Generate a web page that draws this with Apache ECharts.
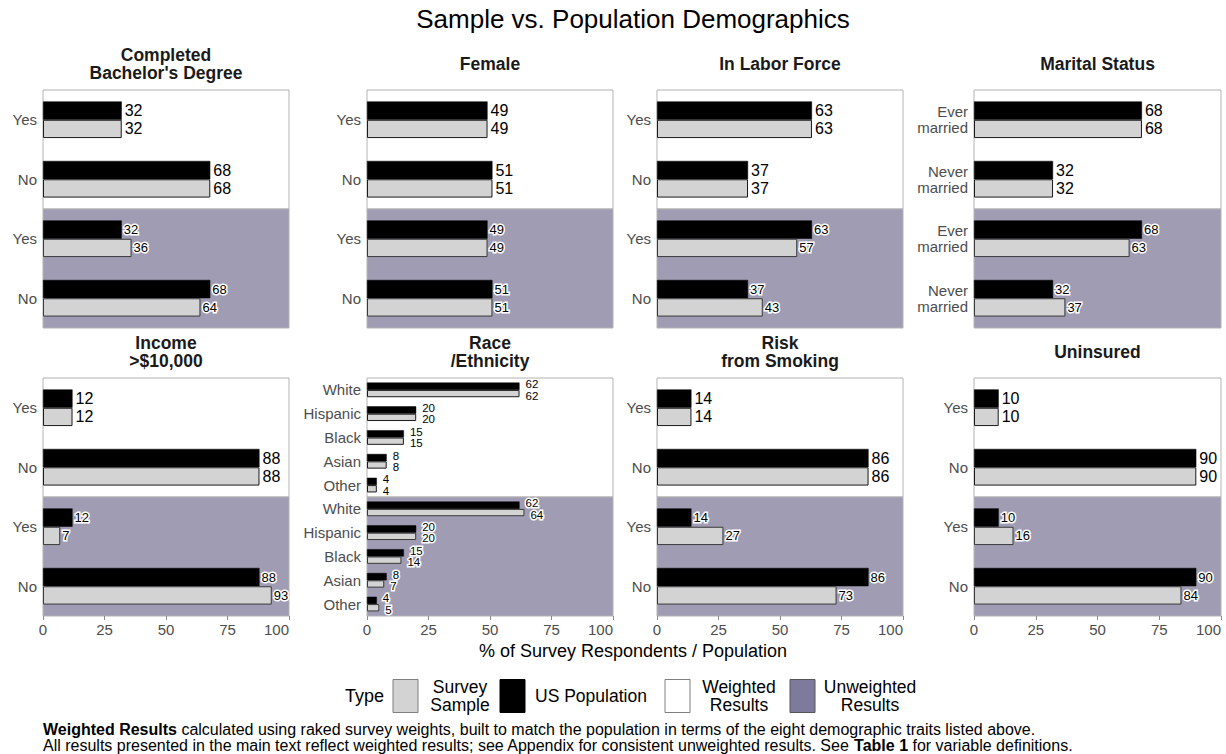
<!DOCTYPE html>
<html><head><meta charset="utf-8">
<script src="https://cdn.jsdelivr.net/npm/echarts@6/dist/echarts.min.js"></script>
<style>html,body{margin:0;padding:0;background:#fff}#c{width:1226px;height:754px}</style>
</head><body><div id="c"></div>
<script>
// ---------- data ----------
const binaryCats = ['Yes', 'No'];
const maritalCats = ['Ever\nmarried', 'Never\nmarried'];
const raceCats = ['White', 'Hispanic', 'Black', 'Asian', 'Other'];
const panelTitles = ['Completed\nBachelor\'s Degree', 'Female', 'In Labor Force', 'Marital Status',
  'Income\n>$10,000', 'Race\n/Ethnicity', 'Risk\nfrom Smoking', 'Uninsured'];
const xTicks = [0, 25, 50, 75, 100];

// US Population, Survey Sample (weighted), Survey Sample (unweighted)
const bachelorPop = [32, 68], bachelorWeighted = [32, 68], bachelorUnweighted = [36, 64];
const femalePop = [49, 51], femaleWeighted = [49, 51], femaleUnweighted = [49, 51];
const laborPop = [63, 37], laborWeighted = [63, 37], laborUnweighted = [57, 43];
const maritalPop = [68, 32], maritalWeighted = [68, 32], maritalUnweighted = [63, 37];
const incomePop = [12, 88], incomeWeighted = [12, 88], incomeUnweighted = [7, 93];
const racePop = [62, 20, 15, 8, 4], raceWeighted = [62, 20, 15, 8, 4], raceUnweighted = [64, 20, 14, 7, 5];
const smokingPop = [14, 86], smokingWeighted = [14, 86], smokingUnweighted = [27, 73];
const uninsuredPop = [10, 90], uninsuredWeighted = [10, 90], uninsuredUnweighted = [16, 84];

const typeNames = ['Survey Sample', 'US Population'];
const resultNames = ['Weighted Results', 'Unweighted Results'];

const panels = [
  { title: panelTitles[0], cats: binaryCats, pop: bachelorPop, w: bachelorWeighted, u: bachelorUnweighted },
  { title: panelTitles[1], cats: binaryCats, pop: femalePop, w: femaleWeighted, u: femaleUnweighted },
  { title: panelTitles[2], cats: binaryCats, pop: laborPop, w: laborWeighted, u: laborUnweighted },
  { title: panelTitles[3], cats: maritalCats, pop: maritalPop, w: maritalWeighted, u: maritalUnweighted },
  { title: panelTitles[4], cats: binaryCats, pop: incomePop, w: incomeWeighted, u: incomeUnweighted },
  { title: panelTitles[5], cats: raceCats, pop: racePop, w: raceWeighted, u: raceUnweighted },
  { title: panelTitles[6], cats: binaryCats, pop: smokingPop, w: smokingWeighted, u: smokingUnweighted },
  { title: panelTitles[7], cats: binaryCats, pop: uninsuredPop, w: uninsuredWeighted, u: uninsuredUnweighted }
];

// ---------- layout / style ----------
const FONT = '"Liberation Sans", Arial, Helvetica, sans-serif';
const colX = [[43, 289], [367, 613], [657, 903], [974, 1221]];
const rowY = [[90, 328], [378, 616]];
const titleY = [63.5, 351.5];
const PURPLE_BG = '#a09cb4';
const PURPLE_KEY = '#7d7a9b';
const GREY = '#d3d3d3';
const AXIS_TXT = '#4d4d4d';

const grids = [], xAxes = [], yAxes = [], series = [], graphics = [];

panels.forEach((p, i) => {
  const c = i % 4, r = Math.floor(i / 4);
  const [x0, x1] = colX[c];
  const [y0, y1] = rowY[r];
  const h = (y1 - y0) / 2;
  const n = p.cats.length;
  const isRace = n > 2;
  const band = h / n;
  const bw = band * 0.308;
  [p.w, p.u].forEach((vals, k) => {
    const gi = grids.length;
    const unweighted = k === 1;
    grids.push({
      left: x0, top: y0 + k * h, width: x1 - x0, height: h,
      show: true, backgroundColor: unweighted ? PURPLE_BG : '#ffffff',
      borderColor: '#b3b3b3', borderWidth: 1, containLabel: false
    });
    const showX = r === 1 && unweighted;
    xAxes.push({
      gridIndex: gi, type: 'value', min: 0, max: 100, interval: 25,
      axisLine: { show: false },
      axisTick: { show: showX, length: 4, lineStyle: { color: '#8c8c8c', width: 1 } },
      axisLabel: { show: showX, color: AXIS_TXT, fontSize: 15, fontFamily: FONT, margin: 6,
        alignMaxLabel: 'right',
        formatter: v => xTicks.includes(v) ? String(v) : '' },
      splitLine: { show: false }
    });
    yAxes.push({
      gridIndex: gi, type: 'category', data: p.cats, inverse: true,
      axisLine: { show: false }, axisTick: { show: false }, splitLine: { show: false },
      axisLabel: { color: AXIS_TXT, fontSize: 15, fontFamily: FONT, margin: 6, lineHeight: 16, align: 'right' }
    });
    const lbl = (offY) => {
      const base = {
        show: true, position: 'right', color: '#000', fontFamily: FONT,
        formatter: '{c}'
      };
      if (isRace) {
        Object.assign(base, { fontSize: 11.5, lineHeight: 10, distance: 6, offset: [0, offY] });
      } else if (unweighted) {
        Object.assign(base, { fontSize: 13, distance: 2 });
      } else {
        Object.assign(base, { fontSize: 16, distance: 3 });
      }
      if (unweighted) Object.assign(base, { textBorderColor: '#fff', textBorderWidth: 3 });
      return base;
    };
    series.push({
      type: 'bar', name: typeNames[1], xAxisIndex: gi, yAxisIndex: gi,
      data: p.pop, barWidth: bw, barGap: '0%',
      itemStyle: { color: '#000000', borderColor: '#000000', borderWidth: 0.5 },
      label: lbl(isRace ? -2 : 0), silent: true, animation: false
    });
    series.push({
      type: 'bar', name: typeNames[0], xAxisIndex: gi, yAxisIndex: gi,
      data: vals, barWidth: bw, barGap: '0%',
      itemStyle: { color: GREY, borderColor: unweighted ? '#3a3a3a' : '#1a1a1a', borderWidth: 1 },
      label: lbl(isRace ? 2 : 0), silent: true, animation: false
    });
  });
  graphics.push({
    type: 'text', x: (x0 + x1) / 2, y: titleY[r],
    style: { text: p.title, font: 'bold 17.5px ' + FONT, fill: '#1a1a1a',
      textAlign: 'center', textVerticalAlign: 'middle', lineHeight: 18 }
  });
});

// main title
graphics.push({
  type: 'text', x: 633, y: 19,
  style: { text: 'Sample vs. Population Demographics', font: '26px ' + FONT, fill: '#000',
    textAlign: 'center', textVerticalAlign: 'middle' }
});
// x-axis title
graphics.push({
  type: 'text', x: 633, y: 651,
  style: { text: '% of Survey Respondents / Population', font: '18px ' + FONT, fill: '#000',
    textAlign: 'center', textVerticalAlign: 'middle' }
});
// legend
const LY = 696;
graphics.push({ type: 'text', x: 345, y: LY, style: { text: 'Type', font: '18px ' + FONT, fill: '#000', textAlign: 'left', textVerticalAlign: 'middle' } });
const keys = [
  { x: 393, fill: GREY, stroke: '#7f7f7f', text: 'Survey\nSample', tx: 460, align: 'center' },
  { x: 500, fill: '#000', stroke: '#000', text: 'US Population', tx: 535, align: 'left' },
  { x: 665, fill: '#fff', stroke: '#7f7f7f', text: 'Weighted\nResults', tx: 739, align: 'center' },
  { x: 790, fill: PURPLE_KEY, stroke: '#555', text: 'Unweighted\nResults', tx: 870, align: 'center' }
];
keys.forEach(k => {
  graphics.push({ type: 'rect', shape: { x: k.x, y: 679.5, width: 25, height: 33 },
    style: { fill: k.fill, stroke: k.stroke, lineWidth: 1 } });
  graphics.push({ type: 'text', x: k.tx, y: LY,
    style: { text: k.text, font: '17.5px ' + FONT, fill: '#000', textAlign: k.align, textVerticalAlign: 'middle', lineHeight: 18 } });
});
// footnote
graphics.push({
  type: 'text', x: 43, y: 737.5,
  style: {
    text: '{b|Weighted Results} calculated using raked survey weights, built to match the population in terms of the eight demographic traits listed above.\nAll results presented in the main text reflect weighted results; see Appendix for consistent unweighted results. See {b|Table 1} for variable definitions.',
    font: '16px ' + FONT, fill: '#000', textAlign: 'left', textVerticalAlign: 'middle', lineHeight: 16.5,
    rich: { b: { fontWeight: 'bold', fontSize: 16, fontFamily: FONT, lineHeight: 16.5 } }
  }
});

const chart = echarts.init(document.getElementById('c'), null, { renderer: 'svg', width: 1226, height: 754 });
chart.setOption({
  animation: false,
  backgroundColor: '#ffffff',
  textStyle: { fontFamily: FONT },
  grid: grids, xAxis: xAxes, yAxis: yAxes, series: series,
  graphic: graphics
});
</script></body></html>
